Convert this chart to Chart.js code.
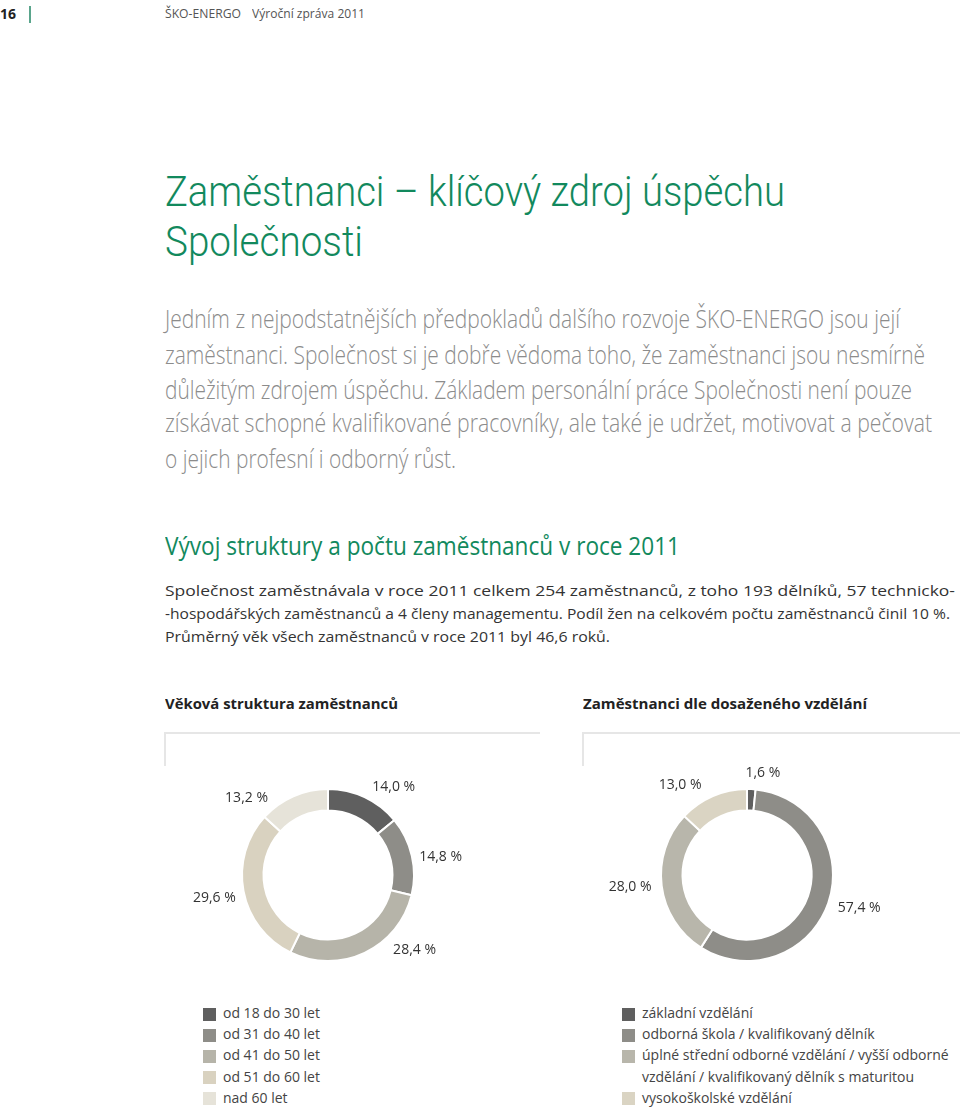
<!DOCTYPE html>
<html lang="cs">
<head>
<meta charset="utf-8">
<title>Zaměstnanci – klíčový zdroj úspěchu</title>
<script src="https://cdn.jsdelivr.net/npm/chart.js@4/dist/chart.umd.min.js"></script>
<style>
  html, body { margin: 0; padding: 0; background: #fff; }
  body { width: 960px; height: 1109px; position: relative; overflow: hidden; font-family: "Open Sans", sans-serif; }
  .t { position: absolute; white-space: nowrap; display: inline-block; transform-origin: 0 50%; line-height: 1; }
  .frame-h { position: absolute; height: 2px; background: #e6e6e6; }
  .frame-v { position: absolute; width: 2px; background: #e6e6e6; }
  canvas { position: absolute; }
  .legend { position: absolute; }
  .legend .box { position: absolute; width: 13px; height: 13px; }
  .title { font-family: Roboto, "Open Sans", sans-serif; left:165px; font-size:42px; font-weight:300; color:#12895d; }
  .intro { left:165px; font-size:25px; font-weight:300; color:#8c8c8c; }
  .body { left:165px; font-size:15px; color:#333; }
</style>
</head>
<body>

<!-- page header -->
<div class="t" style="left:0;top:7px;font-size:14px;font-weight:700;color:#222" data-w="16">16</div>
<div style="position:absolute;left:29px;top:6px;width:2px;height:17px;background:#5aa58c"></div>
<div class="t" style="left:165px;top:7px;font-size:13px;color:#555" data-w="76">ŠKO-ENERGO</div>
<div class="t" style="left:252px;top:7px;font-size:13px;color:#555" data-w="113">Výroční zpráva 2011</div>

<!-- title -->
<div class="t title" style="top:171px" data-w="620">Zaměstnanci – klíčový zdroj úspěchu</div>
<div class="t title" style="top:221px" data-w="198">Společnosti</div>

<!-- intro -->
<div class="t intro" style="top:306px" data-w="735">Jedním z nejpodstatnějších předpokladů dalšího rozvoje ŠKO-ENERGO jsou její</div>
<div class="t intro" style="top:342px" data-w="760">zaměstnanci. Společnost si je dobře vědoma toho, že zaměstnanci jsou nesmírně</div>
<div class="t intro" style="top:377px" data-w="747">důležitým zdrojem úspěchu. Základem personální práce Společnosti není pouze</div>
<div class="t intro" style="top:410px" data-w="767">získávat schopné kvalifikované pracovníky, ale také je udržet, motivovat a pečovat</div>
<div class="t intro" style="top:446px" data-w="291">o jejich profesní i odborný růst.</div>

<!-- section -->
<div class="t" style="left:165px;top:533px;font-size:25px;color:#12895d" data-w="515">Vývoj struktury a počtu zaměstnanců v roce 2011</div>
<div class="t body" style="top:583px" data-w="790">Společnost zaměstnávala v roce 2011 celkem 254 zaměstnanců, z toho 193 dělníků, 57 technicko-</div>
<div class="t body" style="top:606px" data-w="785">-hospodářských zaměstnanců a 4 členy managementu. Podíl žen na celkovém počtu zaměstnanců činil 10 %.</div>
<div class="t body" style="top:629px" data-w="445">Průměrný věk všech zaměstnanců v roce 2011 byl 46,6 roků.</div>

<!-- chart headings -->
<div class="t" style="left:165px;top:696px;font-size:15px;font-weight:700;color:#222" data-w="233">Věková struktura zaměstnanců</div>
<div class="t" style="left:583px;top:696px;font-size:15px;font-weight:700;color:#222" data-w="284">Zaměstnanci dle dosaženého vzdělání</div>

<div class="frame-h" style="left:165px;top:732px;width:375px"></div>
<div class="frame-v" style="left:164px;top:732px;height:34px"></div>
<div class="frame-h" style="left:583px;top:732px;width:377px"></div>
<div class="frame-v" style="left:582px;top:732px;height:34px"></div>

<canvas id="ageChart" width="320" height="240" style="left:168px;top:755px"></canvas>
<canvas id="eduChart" width="320" height="240" style="left:587px;top:755px"></canvas>

<div class="legend" id="ageLegend" style="left:203px;top:1006px"></div>
<div class="legend" id="eduLegend" style="left:622px;top:1006px"></div>

<script>
// Age structure
const ageLabels = ['od 18 do 30 let', 'od 31 do 40 let', 'od 41 do 50 let', 'od 51 do 60 let', 'nad 60 let'];
const ageValues = [14.0, 14.8, 28.4, 29.6, 13.2];

// Education
const eduLabels = [
    'základní vzdělání',
    'odborná škola / kvalifikovaný dělník',
    'úplné střední odborné vzdělání / vyšší odborné\nvzdělání / kvalifikovaný dělník s maturitou',
    'vysokoškolské vzdělání'
];
const eduValues = [1.6, 57.4, 28.0, 13.0];

// Colours
const ageColors = ['#5f5f5f', '#8e8d88', '#b6b4a9', '#d9d2c0', '#e6e3d9'];
const eduColors = ['#5f5f5f', '#8e8d88', '#b8b6ab', '#dad4c3'];

// Label placement around the ring (angle shift in degrees, distance from centre)
const ageLabelShift = [11.5, 3.9, -23.9, -0.7, -22.9];
const ageLabelDist = [110, 114, 114.5, 116, 112];
const eduLabelShift = [6, -2.7, 1.3, -13.3];
const eduLabelDist = [103, 117, 117.5, 112];

function formatPct(v) {
    return v.toFixed(1).replace('.', ',') + '\u00a0%';
}

// Draws the percentage labels next to each slice
const sliceLabels = {
    id: 'sliceLabels',
    afterDatasetsDraw(chart, args, opts) {
        const ctx = chart.ctx;
        const meta = chart.getDatasetMeta(0);
        const values = chart.data.datasets[0].data;
        ctx.save();
        ctx.font = '14px "Open Sans"';
        ctx.fillStyle = '#333';
        ctx.textAlign = 'center';
        ctx.textBaseline = 'middle';
        meta.data.forEach((arc, i) => {
            const a = (arc.startAngle + arc.endAngle) / 2 + opts.shift[i] * Math.PI / 180;
            const d = opts.dist[i];
            ctx.fillText(formatPct(values[i]), arc.x + d * Math.cos(a), arc.y + d * Math.sin(a));
        });
        ctx.restore();
    }
};

function makeDoughnut(id, labels, values, colors, shift, dist) {
    const ctx = document.getElementById(id).getContext('2d');
    return new Chart(ctx, {
        type: 'doughnut',
        data: {
            labels: labels,
            datasets: [{
                data: values,
                backgroundColor: colors,
                borderColor: '#ffffff',
                borderWidth: 2,
                hoverOffset: 0
            }]
        },
        options: {
            responsive: false,
            animation: false,
            radius: 86,
            cutout: '75%',
            layout: { padding: 0 },
            plugins: {
                legend: { display: false },
                tooltip: { enabled: false },
                sliceLabels: { shift: shift, dist: dist }
            }
        },
        plugins: [sliceLabels]
    });
}

// Legend built from the label/colour arrays
function buildLegend(id, labels, colors) {
    const el = document.getElementById(id);
    let y = 0;
    labels.forEach((label, i) => {
        const lines = label.split('\n');
        const box = document.createElement('div');
        box.className = 'box';
        box.style.left = '0px';
        box.style.top = (y + 1.5) + 'px';
        box.style.background = colors[i];
        el.appendChild(box);
        lines.forEach(line => {
            const t = document.createElement('div');
            t.className = 't';
            t.style.left = '20px';
            t.style.top = y + 'px';
            t.style.fontSize = '14px';
            t.style.color = '#444';
            t.textContent = line;
            el.appendChild(t);
            y += 21.2;
        });
    });
}

const ageChart = makeDoughnut('ageChart', ageLabels, ageValues, ageColors, ageLabelShift, ageLabelDist);
const eduChart = makeDoughnut('eduChart', eduLabels, eduValues, eduColors, eduLabelShift, eduLabelDist);
buildLegend('ageLegend', ageLabels, ageColors);
buildLegend('eduLegend', eduLabels, eduColors);

// Squeeze text lines to the widths used in the printed page
function fitText() {
    document.querySelectorAll('[data-w]').forEach(el => {
        el.style.transform = 'none';
        const w = el.getBoundingClientRect().width;
        const target = parseFloat(el.dataset.w);
        if (w > 0) el.style.transform = 'scaleX(' + (target / w) + ')';
    });
}
fitText();
if (document.fonts) document.fonts.ready.then(fitText);
</script>
</body>
</html>
